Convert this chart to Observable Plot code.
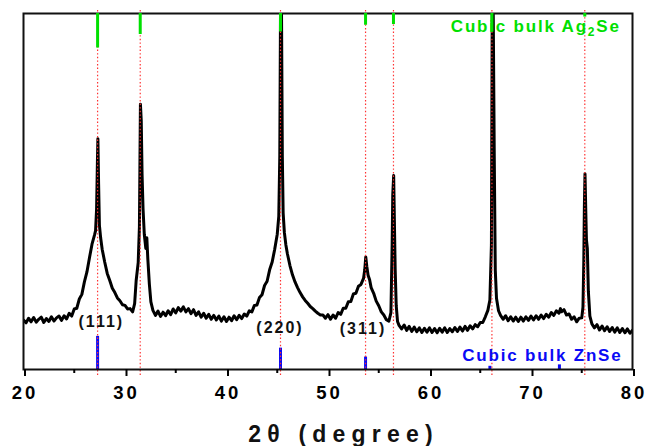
<!DOCTYPE html>
<html><head><meta charset="utf-8">
<script src="https://cdn.jsdelivr.net/npm/d3@7"></script>
<script src="https://cdn.jsdelivr.net/npm/@observablehq/plot@0.6"></script>
<style>
body{margin:0;background:#fff;}
</style></head><body><div id="chart"></div>
<script>
// XRD pattern: [2theta (deg), intensity (a.u.)]
const pattern = [
[20.00,13.9],[20.25,13.1],[20.50,14.4],[20.75,13.4],[21.00,14.6],[21.25,13.3],[21.50,14.1],[21.75,14.7],
[22.00,13.2],[22.25,14.3],[22.50,13.5],[22.75,14.8],[23.00,13.6],[23.25,14.5],[23.50,15.0],[23.75,13.8],
[24.00,15.1],[24.25,14.2],[24.50,15.8],[24.75,15.0],[25.00,17.0],[25.25,17.2],[25.50,19.8],[25.75,21.1],
[26.00,24.6],[26.25,27.4],[26.50,31.4],[26.75,35.2],[27.00,37.8],[27.10,39.0],[27.20,45.0],[27.28,58.0],
[27.33,64.8],[27.40,52.0],[27.48,40.5],[27.60,37.0],[27.75,33.8],[28.00,30.2],[28.25,27.0],[28.50,25.0],
[28.75,22.8],[29.00,21.6],[29.25,20.1],[29.50,19.3],[29.75,18.2],[30.00,18.0],[30.25,17.0],[30.50,17.1],
[30.75,16.2],[30.95,18.5],[31.10,25.0],[31.30,30.0],[31.42,40.0],[31.52,74.5],[31.60,70.0],[31.68,55.0],
[31.78,45.0],[31.90,38.0],[32.05,34.0],[32.15,37.0],[32.25,31.0],[32.40,24.0],[32.55,19.0],[32.75,16.6],
[33.00,15.2],[33.25,16.4],[33.50,14.9],[33.75,16.1],[34.00,15.1],[34.25,16.5],[34.50,15.4],[34.75,17.0],
[35.00,15.9],[35.25,17.4],[35.50,16.4],[35.75,17.6],[36.00,16.2],[36.25,17.1],[36.50,15.7],[36.75,16.8],
[37.00,15.2],[37.25,16.2],[37.50,14.7],[37.75,15.8],[38.00,14.4],[38.25,15.5],[38.50,14.1],[38.75,15.2],
[39.00,13.9],[39.25,15.0],[39.50,13.6],[39.75,14.8],[40.00,13.5],[40.25,14.7],[40.50,13.7],[40.75,15.1],
[41.00,14.0],[41.25,15.2],[41.50,14.3],[41.75,15.6],[42.00,15.0],[42.25,16.5],[42.50,16.2],[42.75,18.0],
[43.00,18.1],[43.25,20.2],[43.50,21.0],[43.75,23.6],[44.00,24.8],[44.25,28.0],[44.50,30.2],[44.75,33.8],
[45.00,38.0],[45.15,43.0],[45.25,60.0],[45.32,100],[45.42,100],[45.50,60.0],[45.58,44.0],[45.70,38.5],
[45.85,35.0],[46.00,32.5],[46.25,29.2],[46.50,26.6],[46.75,24.6],[47.00,23.0],[47.25,21.6],[47.50,20.4],
[47.75,19.4],[48.00,18.6],[48.25,17.7],[48.50,17.1],[48.75,16.4],[49.00,15.8],[49.25,15.3],[49.50,15.3],
[49.75,14.4],[50.00,15.4],[50.25,14.1],[50.50,15.3],[50.75,14.4],[51.00,16.0],[51.25,15.5],[51.50,17.2],
[51.75,17.2],[52.00,19.0],[52.25,19.1],[52.50,21.2],[52.75,21.4],[53.00,23.4],[53.25,23.9],[53.50,25.6],
[53.62,28.0],[53.72,31.6],[53.82,29.0],[53.95,26.5],[54.10,25.2],[54.25,23.0],[54.50,21.4],[54.75,19.2],
[55.00,17.9],[55.25,16.2],[55.50,15.3],[55.75,14.0],[56.00,13.6],[56.20,16.0],[56.32,35.0],[56.38,49.0],
[56.47,54.5],[56.55,40.0],[56.62,28.0],[56.72,18.0],[56.85,13.5],[57.00,12.4],[57.25,11.4],[57.50,12.5],
[57.75,11.0],[58.00,12.1],[58.25,10.7],[58.50,11.9],[58.75,10.6],[59.00,11.7],[59.25,10.4],[59.50,11.6],
[59.75,10.5],[60.00,11.7],[60.25,10.4],[60.50,11.5],[60.75,10.3],[61.00,11.6],[61.25,10.5],[61.50,11.7],
[61.75,10.4],[62.00,11.5],[62.25,10.6],[62.50,11.8],[62.75,10.7],[63.00,11.9],[63.25,10.8],[63.50,12.1],
[63.75,11.0],[64.00,12.3],[64.25,11.4],[64.50,12.6],[64.75,12.0],[65.00,13.2],[65.25,13.2],[65.50,14.8],
[65.75,16.6],[65.95,19.5],[66.10,35.0],[66.18,100],[66.28,100],[66.38,60.0],[66.48,28.0],[66.60,20.0],
[66.80,16.5],[67.00,15.2],[67.25,14.1],[67.50,15.1],[67.75,13.7],[68.00,14.8],[68.25,13.6],[68.50,14.7],
[68.75,13.5],[69.00,14.7],[69.25,13.6],[69.50,14.8],[69.75,13.8],[70.00,15.0],[70.25,13.9],[70.50,15.1],
[70.75,14.1],[71.00,15.3],[71.25,14.3],[71.50,15.5],[71.75,14.7],[72.00,16.0],[72.25,15.2],[72.50,16.5],
[72.75,15.8],[72.90,17.1],[73.00,16.2],[73.25,16.8],[73.50,15.3],[73.75,15.6],[74.00,14.1],[74.25,14.8],
[74.50,13.4],[74.75,14.4],[75.00,14.5],[75.12,17.5],[75.20,30.0],[75.26,46.0],[75.32,55.0],[75.40,44.0],
[75.46,36.5],[75.55,34.0],[75.65,22.0],[75.80,15.0],[76.00,12.8],[76.25,11.7],[76.50,12.6],[76.75,11.1],
[77.00,12.2],[77.25,10.9],[77.50,12.0],[77.75,10.7],[78.00,11.8],[78.25,10.5],[78.50,11.7],[78.75,10.4],
[79.00,11.5],[79.25,10.3],[79.50,11.4],[79.75,10.2],[80.00,11.0]
];
// Cubic bulk Ag2Se reference lines (position, relative height)
const ag2sePos = [27.3, 31.5, 45.32, 53.7, 56.45, 66.15, 75.3];
const ag2seHeights = [9.7, 5.9, 5.2, 3.3, 3.1, 5.2, 1.0];
// Cubic bulk ZnSe reference lines
const znsePos = [27.3, 45.32, 53.7, 65.95, 72.8];
const znseHeights = [9.3, 6.0, 3.5, 0.9, 1.3];
// Miller index labels
const millerText = ["(111)", "(220)", "(311)"];
const millerX = [27.57, 45.17, 53.35];
const millerY = [11.9, 10.2, 10.1];
const majorTicks = [20, 30, 40, 50, 60, 70, 80];
const minorTicks = [25, 35, 45, 55, 65, 75];
const ag2seLabel = "Cubic bulk Ag2Se";
const znseLabel = "Cubic bulk ZnSe";
const xTitle = "2θ (degree)";

const plot = Plot.plot({
  width: 646,
  height: 446,
  marginTop: 13,
  marginBottom: 77,
  marginLeft: 23,
  marginRight: 14,
  style: {fontFamily: "'Liberation Sans', Arial, sans-serif", background: "white", color: "black"},
  x: {domain: [20, 80], label: null},
  y: {domain: [0, 100], axis: null},
  marks: [
    Plot.ruleX(znsePos, {x: d => d, y1: 0, y2: (d, i) => znseHeights[i], stroke: "#0a0af5", strokeWidth: 3}),
    Plot.line(pattern, {x: d => d[0], y: d => d[1], stroke: "black", strokeWidth: 3, clip: true}),
    Plot.ruleX(ag2sePos, {stroke: "#ff3030", strokeWidth: 1.2, strokeDasharray: "1.4,2.2", insetTop: -3, insetBottom: -8}),
    Plot.frame({stroke: "#111", strokeWidth: 2}),
    Plot.ruleX(ag2sePos, {x: d => d, y1: 100, y2: (d, i) => 100 - ag2seHeights[i], stroke: "#00e000", strokeWidth: 3}),
    Plot.axisX({ticks: minorTicks, tickSize: 4, strokeWidth: 2, tickFormat: () => "", label: null}),
    Plot.axisX({ticks: majorTicks, tickSize: 7, tickPadding: 9, strokeWidth: 2, fontSize: 18.5, fontWeight: "bold", tickFormat: d => String(d), dx: 1.5, label: null}),
    Plot.text(millerText, {x: (d, i) => millerX[i], y: (d, i) => millerY[i], text: d => d, lineAnchor: "bottom", fontSize: 16, fontWeight: "bold", fill: "#111", dx: 1}),
    Plot.text([ag2seLabel], {x: 62.1, y: 94.75, text: d => d, textAnchor: "start", lineAnchor: "bottom", fontSize: 17, fontWeight: "bold", fill: "#00e000"}),
    Plot.text([znseLabel], {x: 63.23, y: 2.5, text: d => d, textAnchor: "start", lineAnchor: "bottom", fontSize: 17, fontWeight: "bold", fill: "#0a0af5"}),
    Plot.text([xTitle], {frameAnchor: "bottom", text: d => d, dy: 72, dx: 15.5, lineAnchor: "bottom", fontSize: 23, fontWeight: "bold", fill: "#111"})
  ]
});
document.getElementById("chart").appendChild(plot);

// letter spacing and subscript, applied by text content
const tickStrings = majorTicks.map(String);
d3.select(plot).selectAll("text").each(function () {
  const t = d3.select(this);
  const s = this.textContent;
  if (tickStrings.includes(s)) t.style("letter-spacing", "3px");
  else if (millerText.includes(s)) t.style("letter-spacing", "2px");
  else if (s === xTitle) t.style("letter-spacing", "6.2px");
  else if (s === znseLabel) t.style("letter-spacing", "1.8px");
  else if (s === ag2seLabel) {
    t.style("letter-spacing", "1.8px");
    t.text(null);
    t.append("tspan").text("Cubic bulk Ag");
    t.append("tspan").attr("font-size", 12).attr("dy", 4).text("2");
    t.append("tspan").attr("dy", -4).text("Se");
  }
});
</script></body></html>
